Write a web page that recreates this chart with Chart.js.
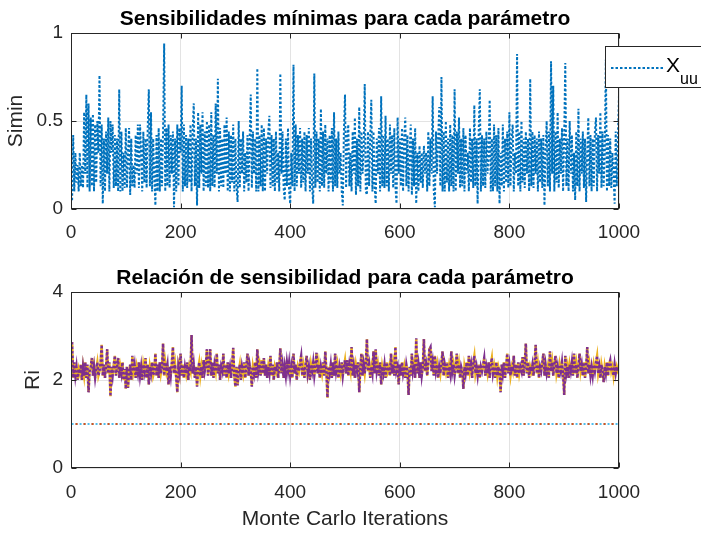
<!DOCTYPE html>
<html><head><meta charset="utf-8">
<script src="https://cdn.jsdelivr.net/npm/chart.js@4.4.1/dist/chart.umd.min.js"></script>
<style>
html,body{margin:0;padding:0;background:#fff}
body{width:701px;height:533px;overflow:hidden;position:relative}
.box{position:absolute;left:0;width:701px}
</style></head><body>
<div class="box" style="top:0;height:250px"><canvas id="c1"></canvas></div>
<div class="box" style="top:250px;height:283px"><canvas id="c2"></canvas></div>
<script>
// ---- data (one sample every 2 Monte Carlo iterations) ----
const iterStart = 2;
const iterStep = 2;
const simin = [
 0.05,0.42,0.10,0.32,0.15,0.25,0.10,0.32,0.13,0.25,0.12,0.55,0.20,0.65,0.12,0.60,0.10,0.52,0.13,0.54,0.10,0.48,0.15,0.50,0.32,
 0.76,0.13,0.48,0.03,0.40,0.10,0.44,0.20,0.52,0.10,0.50,0.32,0.48,0.12,0.42,0.13,0.40,0.10,0.68,0.10,0.44,0.10,0.32,0.12,0.46,
 0.12,0.32,0.46,0.08,0.40,0.13,0.25,0.12,0.42,0.20,0.48,0.12,0.48,0.32,0.10,0.44,0.15,0.40,0.12,0.46,0.68,0.13,0.55,0.10,0.40,
 0.20,0.02,0.42,0.10,0.46,0.10,0.40,0.13,0.44,0.94,0.10,0.46,0.13,0.48,0.12,0.42,0.20,0.44,0.01,0.40,0.10,0.48,0.13,0.46,0.32,
 0.70,0.10,0.48,0.13,0.42,0.12,0.40,0.15,0.48,0.10,0.44,0.60,0.13,0.40,0.02,0.55,0.12,0.48,0.20,0.55,0.10,0.44,0.13,0.50,0.12,
 0.48,0.10,0.55,0.13,0.42,0.12,0.60,0.20,0.74,0.10,0.46,0.13,0.40,0.12,0.48,0.20,0.52,0.10,0.44,0.10,0.42,0.15,0.48,0.10,0.40,
 0.13,0.04,0.50,0.12,0.40,0.20,0.44,0.10,0.32,0.15,0.42,0.10,0.40,0.65,0.12,0.44,0.20,0.40,0.10,0.80,0.10,0.42,0.13,0.48,0.10,
 0.46,0.10,0.40,0.20,0.44,0.53,0.12,0.42,0.13,0.40,0.10,0.44,0.15,0.32,0.10,0.77,0.20,0.44,0.12,0.05,0.40,0.13,0.46,0.10,0.03,
 0.32,0.13,0.82,0.10,0.48,0.13,0.42,0.20,0.46,0.12,0.40,0.15,0.44,0.10,0.42,0.20,0.46,0.10,0.40,0.13,0.03,0.77,0.12,0.44,0.15,
 0.40,0.10,0.57,0.13,0.44,0.12,0.48,0.20,0.40,0.10,0.42,0.15,0.46,0.10,0.55,0.13,0.40,0.12,0.44,0.20,0.32,0.10,0.02,0.44,0.65,
 0.12,0.40,0.48,0.13,0.32,0.10,0.44,0.20,0.52,0.08,0.40,0.13,0.58,0.10,0.44,0.20,0.32,0.71,0.10,0.08,0.44,0.13,0.40,0.62,0.10,
 0.44,0.13,0.03,0.40,0.20,0.46,0.10,0.64,0.13,0.42,0.12,0.53,0.13,0.40,0.10,0.48,0.20,0.42,0.12,0.46,0.13,0.03,0.52,0.20,0.40,
 0.13,0.46,0.10,0.40,0.52,0.13,0.42,0.10,0.32,0.48,0.08,0.40,0.13,0.46,0.03,0.32,0.10,0.36,0.15,0.32,0.12,0.36,0.20,0.32,0.10,
 0.44,0.13,0.40,0.20,0.64,0.10,0.01,0.44,0.20,0.40,0.58,0.13,0.75,0.10,0.44,0.10,0.50,0.15,0.40,0.10,0.48,0.13,0.42,0.10,0.68,
 0.10,0.44,0.20,0.52,0.12,0.40,0.13,0.46,0.10,0.42,0.20,0.32,0.10,0.46,0.15,0.40,0.12,0.59,0.13,0.40,0.03,0.44,0.68,0.10,0.42,
 0.13,0.40,0.12,0.44,0.20,0.32,0.62,0.10,0.40,0.10,0.48,0.13,0.42,0.10,0.46,0.03,0.32,0.13,0.48,0.10,0.40,0.15,0.44,0.12,0.55,
 0.13,0.40,0.48,0.10,0.32,0.20,0.88,0.13,0.44,0.10,0.50,0.15,0.40,0.12,0.44,0.20,0.40,0.10,0.74,0.13,0.44,0.12,0.42,0.20,0.40,
 0.10,0.44,0.15,0.40,0.12,0.42,0.02,0.32,0.50,0.13,0.44,0.10,0.84,0.20,0.70,0.10,0.44,0.15,0.55,0.12,0.40,0.20,0.46,0.10,0.42,
 0.83,0.13,0.40,0.10,0.50,0.20,0.42,0.10,0.32,0.05,0.44,0.13,0.57,0.10,0.40,0.20,0.44,0.12,0.40,0.04,0.32,0.52,0.13,0.42,0.10,
 0.40,0.13,0.44,0.52,0.10,0.42,0.20,0.55,0.12,0.44,0.13,0.32,0.85,0.10,0.42,0.13,0.40,0.12,0.32,0.20,0.03,0.44,0.13,0.40,0.65
];
const riMain = [
 2.86,2.05,2.40,2.10,2.30,2.00,2.25,2.15,2.35,2.00,2.30,2.10,2.40,2.05,2.35,1.72,2.20,2.30,2.50,2.10,2.30,2.05,2.25,2.40,2.10,
 2.20,2.40,2.80,2.10,2.35,2.05,2.30,2.70,2.15,2.40,1.63,2.30,2.10,2.35,2.55,2.10,2.30,2.50,2.05,2.30,2.15,2.40,2.00,2.25,1.80,
 2.30,1.82,2.15,2.35,2.00,2.55,2.20,2.35,2.05,2.30,2.15,2.40,2.10,2.30,2.00,2.35,2.20,2.50,2.05,2.35,1.90,2.30,2.15,2.40,2.10,
 2.20,2.60,2.10,2.35,2.05,2.40,2.15,2.30,2.83,2.10,2.40,2.20,2.35,1.90,2.30,2.10,2.40,2.75,2.15,2.35,2.05,1.72,2.30,2.15,2.60,
 2.10,2.35,2.05,2.30,2.15,2.40,2.00,2.30,2.20,3.02,2.15,2.35,2.05,2.30,1.85,2.25,2.40,2.10,2.30,2.05,2.45,2.20,2.35,2.70,2.10,
 2.30,2.70,2.10,2.40,2.05,2.35,2.20,2.60,2.15,2.35,2.00,2.30,2.20,2.60,2.10,2.35,2.05,2.40,2.15,2.30,2.05,2.35,2.73,2.10,1.85,
 2.30,1.88,2.20,2.35,2.00,2.30,2.15,2.40,2.05,2.30,2.60,2.10,2.35,2.20,1.85,2.30,2.15,2.40,2.05,2.70,2.20,2.35,2.10,2.45,2.15,
 2.50,2.10,2.35,2.05,2.30,2.15,2.55,2.10,2.35,2.00,2.30,2.20,2.40,2.05,2.30,2.72,2.15,2.35,2.05,2.30,2.10,2.40,2.20,2.40,2.10,
 2.30,2.05,2.60,2.15,2.35,2.00,2.30,2.20,2.40,2.55,2.10,2.30,2.05,2.35,2.55,2.15,2.30,2.00,2.35,2.20,2.40,2.10,2.30,2.62,2.15,
 2.35,2.05,2.30,2.15,2.40,2.10,2.65,2.20,1.60,2.30,2.15,2.35,2.05,2.40,2.10,2.60,2.20,2.35,2.05,2.30,2.15,2.40,2.10,2.30,2.45,
 2.15,2.45,2.10,2.35,2.20,2.75,2.10,2.30,2.05,2.35,2.20,2.40,1.72,2.30,2.60,2.10,2.35,2.15,2.40,2.93,2.20,2.35,2.05,2.30,2.15,
 2.65,2.15,2.70,2.20,2.35,2.10,2.40,1.90,2.30,2.15,2.35,2.05,2.40,2.20,2.30,2.10,2.60,2.15,2.35,2.10,2.75,2.20,2.30,1.90,2.35,
 2.10,2.40,2.15,2.30,2.05,2.35,2.20,1.66,2.30,2.10,2.60,2.20,2.35,2.05,2.95,2.15,2.35,2.05,2.40,2.10,2.30,2.93,2.20,2.35,2.10,
 2.35,2.70,2.75,2.20,2.40,2.10,2.55,2.20,2.35,2.05,2.30,2.15,2.40,2.65,2.10,2.35,2.20,2.40,2.05,2.30,2.15,2.65,2.20,2.35,2.10,
 2.30,2.60,2.15,2.35,2.05,2.30,2.20,1.80,2.30,2.15,2.40,2.10,2.55,2.20,2.35,2.05,2.40,2.55,2.15,2.30,2.10,2.35,2.05,2.30,2.20,
 2.35,2.50,2.10,2.30,2.15,2.40,2.05,2.35,2.50,2.15,2.30,2.05,2.40,2.10,2.30,2.20,1.72,2.35,2.15,2.40,2.05,2.30,2.60,2.15,2.35,
 2.10,2.30,2.20,2.55,2.10,2.35,2.05,2.40,2.15,2.30,2.20,2.52,2.10,2.35,2.83,2.15,2.40,2.05,2.30,2.20,2.35,2.10,2.40,2.80,2.15,
 2.35,2.05,2.30,2.20,2.40,2.60,2.10,2.35,2.15,2.30,2.05,2.65,2.20,2.40,2.10,2.35,2.55,2.15,2.30,2.05,2.35,2.20,2.40,2.10,1.66,
 2.55,2.15,2.30,2.05,2.35,2.20,2.40,2.10,2.60,2.15,2.35,2.05,2.30,2.60,2.20,2.35,2.10,2.40,2.05,2.30,2.75,2.15,2.35,2.10,2.30,
 2.10,2.35,2.20,2.40,2.55,2.15,2.30,2.05,2.35,2.20,1.95,2.30,2.15,2.40,2.10,2.35,2.45,2.20,2.30,2.10,2.35,2.15,2.30,2.20,2.25
];
const riUnitIter = [1, 1000];
const riUnit = [1, 1];
const xTicks = [0, 200, 400, 600, 800, 1000];
const siminTicks = [0, 0.5, 1];
const riTicks = [0, 2, 4];

// ---- styling ----
const FONT = "'Liberation Sans', Arial, Helvetica, sans-serif";
const AX = '#262626';
const GRID = '#e3e3e3';
const tickFont = {family: FONT, size: 19};
const labelFont = {family: FONT, size: 21};

const toXY = arr => arr.map((v, i) => ({x: iterStart + i * iterStep, y: v}));
const pairXY = (xs, ys) => xs.map((x, i) => ({x, y: ys[i]}));

function dotted(color, data, order, offset, dash, width) {
  return {data, borderColor: color, backgroundColor: color, borderWidth: width || 2,
    borderDash: dash || [2.5, 2], borderDashOffset: offset || 0, pointRadius: 0,
    tension: 0, order, fill: false};
}

function framePlugin(title, legend) {
  return {
    id: 'frame',
    afterDraw(chart) {
      const {ctx, chartArea: a, scales} = chart;
      ctx.save();
      ctx.strokeStyle = AX; ctx.lineWidth = 1;
      const L = Math.round(a.left) + 0.5, R = Math.round(a.right) - 0.5;
      const T = Math.round(a.top) + 0.5, B = Math.round(a.bottom) - 0.5;
      ctx.strokeRect(L, T, R - L, B - T);
      const tl = 5;
      ctx.beginPath();
      scales.x.ticks.forEach(t => {
        const px = Math.round(scales.x.getPixelForValue(t.value)) + 0.5;
        ctx.moveTo(px, B); ctx.lineTo(px, B - tl);
        ctx.moveTo(px, T); ctx.lineTo(px, T + tl);
      });
      scales.y.ticks.forEach(t => {
        const py = Math.round(scales.y.getPixelForValue(t.value)) + 0.5;
        ctx.moveTo(L, py); ctx.lineTo(L + tl, py);
        ctx.moveTo(R, py); ctx.lineTo(R - tl, py);
      });
      ctx.stroke();
      ctx.fillStyle = '#000';
      ctx.font = "bold 21px " + FONT;
      ctx.textAlign = 'center'; ctx.textBaseline = 'alphabetic';
      ctx.fillText(title, (a.left + a.right) / 2, a.top - 8);
      if (legend) {
        ctx.fillStyle = '#fff';
        ctx.fillRect(605.5, 46.5, 110, 41);
        ctx.strokeStyle = AX; ctx.lineWidth = 1;
        ctx.strokeRect(605.5, 46.5, 110, 41);
        ctx.strokeStyle = '#0072BD'; ctx.lineWidth = 2;
        ctx.setLineDash([2.5, 2]);
        ctx.beginPath(); ctx.moveTo(611, 68); ctx.lineTo(663, 68); ctx.stroke();
        ctx.setLineDash([]);
        ctx.fillStyle = '#000'; ctx.textAlign = 'left';
        ctx.font = "21px " + FONT;
        ctx.fillText('X', 666, 72);
        ctx.font = "16px " + FONT;
        ctx.fillText('uu', 680, 84);
      }
      ctx.restore();
    }
  };
}

function build(id, cfg) {
  return new Chart(document.getElementById(id), {
    type: 'line',
    data: {datasets: cfg.datasets},
    options: {
      responsive: true, maintainAspectRatio: false, animation: false,
      layout: {padding: {top: cfg.padTop, right: 82, left: 0, bottom: 0}},
      plugins: {legend: {display: false}, tooltip: {enabled: false}, title: {display: false}},
      scales: {
        x: {
          type: 'linear', min: 0, max: 1000,
          afterBuildTicks: s => { s.ticks = xTicks.map(v => ({value: v})); },
          afterFit: s => { s.height = cfg.xAxisH; },
          grid: {color: GRID, drawTicks: false, lineWidth: 1},
          border: {display: false},
          ticks: {font: tickFont, color: AX, padding: cfg.xTickPad, maxRotation: 0, autoSkip: false,
                  callback: v => String(v)},
          title: cfg.xTitle ? {display: true, text: cfg.xTitle, font: labelFont, color: AX,
                  padding: {top: 0, bottom: 1}} : {display: false}
        },
        y: {
          type: 'linear', min: cfg.yMin, max: cfg.yMax,
          afterBuildTicks: s => { s.ticks = cfg.yTicks.map(v => ({value: v})); },
          afterFit: s => { s.width = 71; },
          grid: {color: GRID, drawTicks: false, lineWidth: 1},
          border: {display: false},
          ticks: {font: tickFont, color: AX, padding: 8, autoSkip: false, callback: v => String(v)},
          title: {display: true, text: cfg.yTitle, font: labelFont, color: AX,
                  padding: {top: cfg.yTitlePad, bottom: 0}}
        }
      }
    },
    plugins: [framePlugin(cfg.title, cfg.legend)]
  });
}

build('c1', {
  datasets: [dotted('#0072BD', toXY(simin), 1)],
  padTop: 33, xAxisH: 41, xTickPad: 12, yMin: 0, yMax: 1, yTicks: siminTicks,
  yTitle: 'Simin', yTitlePad: 4, title: 'Sensibilidades mínimas para cada parámetro', legend: true
});

build('c2', {
  datasets: [
    dotted('#4DBEEE', pairXY(riUnitIter, riUnit), 5, 0, [2, 2]),
    dotted('#D95319', pairXY(riUnitIter, riUnit), 4, 4, [2, 6]),
    dotted('#EDB120', toXY(riMain), 2, 2.2, [2.5, 2], 2.5),
    dotted('#7E2F8E', toXY(riMain), 1, 0, [2.5, 2], 2.5)
  ],
  padTop: 42, xAxisH: 65, xTickPad: 13, yMin: 0, yMax: 4, yTicks: riTicks,
  yTitle: 'Ri', yTitlePad: 21, title: 'Relación de sensibilidad para cada parámetro', legend: false,
  xTitle: 'Monte Carlo Iterations'
});
</script>
</body></html>
